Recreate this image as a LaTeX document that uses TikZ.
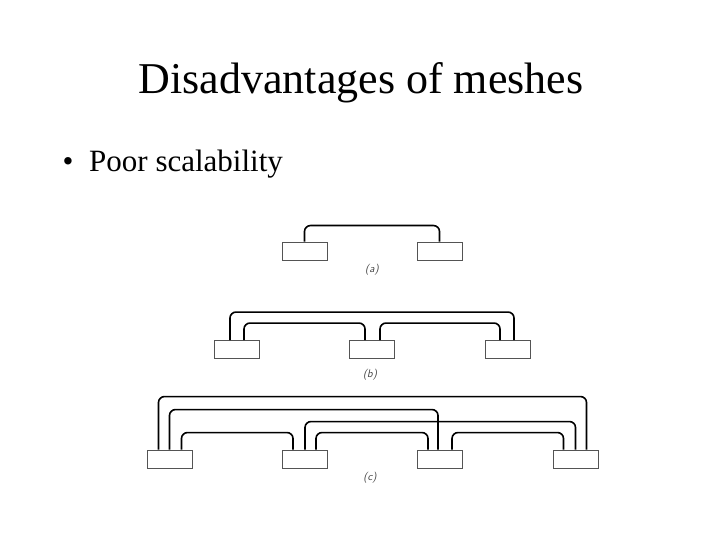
\documentclass[tikz,border=0pt]{standalone}
\usepackage{fontspec}
\setmainfont{Liberation Serif}
\definecolor{boxgray}{rgb}{0.33,0.33,0.33}

\begin{document}
\begin{tikzpicture}[x=1pt,y=-1pt,
  unit/.style={draw=boxgray, fill=white, line width=0.9pt, minimum width=45pt, minimum height=18pt, inner sep=0pt},
  link/.style={line width=1.6pt, rounded corners=6pt},
  caption/.style={font=\sffamily\itshape\fontsize{11}{11}\selectfont, text=black!75}]
  \useasboundingbox (0,0) rectangle (720,540);

  % Text
  \node[anchor=base, font=\fontsize{44}{48}\selectfont] (title) at (361,94) {Disadvantages of meshes};
  \node[anchor=base, font=\fontsize{31}{34}\selectfont] (bullet) at (68,172) {\textbullet};
  \node[anchor=base west, inner sep=0pt, font=\fontsize{31}{34}\selectfont] (item) at (89,172) {Poor scalability};

  % Boxes
  \node[unit] (a1) at (304.5,251) {};
  \node[unit] (a2) at (439.5,251) {};
  \node[unit] (b1) at (237,349.5) {};
  \node[unit] (b2) at (372,349.5) {};
  \node[unit] (b3) at (508,349.5) {};
  \node[unit] (c1) at (169.5,459) {};
  \node[unit] (c2) at (305,459) {};
  \node[unit] (c3) at (440,459) {};
  \node[unit] (c4) at (575.5,459) {};

  % Links
  \draw[link] (a1.north) -- ++(0,-16) -| (a2.north);
  \draw[link] ([xshift=-7pt]b1.north) -- ++(0,-28) -| ([xshift=6pt]b3.north);
  \draw[link] ([xshift=7pt]b1.north) -- ++(0,-17) -| ([xshift=-7pt]b2.north);
  \draw[link] ([xshift=8pt]b2.north) -- ++(0,-17) -| ([xshift=-8pt]b3.north);
  \draw[link] ([xshift=-11pt]c1.north) -- ++(0,-53) -| ([xshift=11pt]c4.north);
  \draw[link] (c1.north) -- ++(0,-40) -| ([xshift=-2pt]c3.north);
  \draw[link] ([xshift=12pt]c1.north) -- ++(0,-17) -| ([xshift=-12pt]c2.north);
  \draw[link] (c2.north) -- ++(0,-28) -| (c4.north);
  \draw[link] ([xshift=11pt]c2.north) -- ++(0,-17) -| ([xshift=-12pt]c3.north);
  \draw[link] ([xshift=12pt]c3.north) -- ++(0,-17) -| ([xshift=-12pt]c4.north);

  % Captions
  \node[caption] (la) at (372,270) {(a)};
  \node[caption] (lb) at (370,375) {(b)};
  \node[caption] (lc) at (370,478) {(c)};
\end{tikzpicture}
\end{document}
